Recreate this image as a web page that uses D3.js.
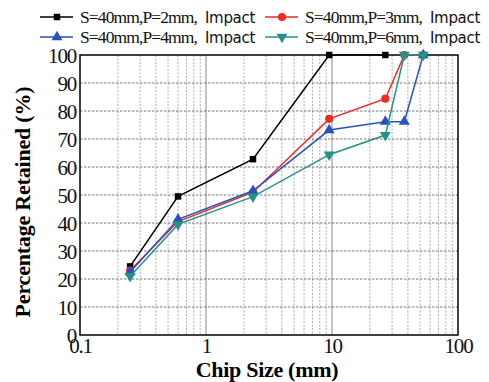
<!DOCTYPE html>
<html>
<head>
<meta charset="utf-8">
<script src="https://cdn.jsdelivr.net/npm/d3@7"></script>
<style>
  body { margin: 0; background: #fff; }
  svg { display: block; }
</style>
</head>
<body>
<svg id="chart" width="489" height="382"></svg>
<script>
// Siebgroessen (mm) und Durchgang je Serie
const chipSizes = [0.25, 0.6, 2.36, 9.5, 26.5, 37.5, 53];
const seriesNames = [
  'S=40mm,P=2mm,', 'S=40mm,P=3mm,', 'S=40mm,P=4mm,', 'S=40mm,P=6mm,'
];
const p2Values = [24.5, 49.5, 62.8, 100, 100];
const p3Values = [23.0, 40.5, 51.0, 77.2, 84.4, 100, 100];
const p4Values = [22.5, 41.3, 51.5, 73.2, 76.2, 76.2, 100];
const p6Values = [21.0, 39.5, 49.4, 64.4, 71.4, 100, 100];
const xTicks = [0.1, 1, 10, 100];
const yTicks = [0, 10, 20, 30, 40, 50, 60, 70, 80, 90, 100];

const seriesColors = ['#000000', '#ee2a24', '#2a52be', '#23938a'];
const seriesShapes = [d3.symbolSquare, d3.symbolCircle, d3.symbolTriangle, 'down'];
const allValues = [p2Values, p3Values, p4Values, p6Values];

const svg = d3.select('#chart');
const margin = { top: 55, right: 31, bottom: 47, left: 80 };
const width = 489 - margin.left - margin.right;
const height = 382 - margin.top - margin.bottom;

const g = svg.append('g')
  .attr('transform', `translate(${margin.left},${margin.top})`);

const xScale = d3.scaleLog().domain([0.1, 100]).range([0, width]);
const yScale = d3.scaleLinear().domain([0, 100]).range([height, 0]);

// Gitter: Nebenteilung vertikal
const minor = [];
[0.1, 1, 10].forEach(dec => {
  for (let k = 2; k <= 9; k++) minor.push(dec * k);
});
g.selectAll('.vminor')
  .data(minor)
  .enter()
  .append('line')
  .attr('x1', d => xScale(d)).attr('x2', d => xScale(d))
  .attr('y1', 0).attr('y2', height)
  .attr('stroke', '#9a9a9a')
  .attr('stroke-width', 0.8)
  .attr('stroke-dasharray', '2,1.5');

g.selectAll('.vmajor')
  .data([1, 10])
  .enter()
  .append('line')
  .attr('x1', d => xScale(d)).attr('x2', d => xScale(d))
  .attr('y1', 0).attr('y2', height)
  .attr('stroke', '#8a8a8a')
  .attr('stroke-width', 1);

g.selectAll('.hgrid')
  .data(yTicks.slice(1, -1))
  .enter()
  .append('line')
  .attr('x1', 0).attr('x2', width)
  .attr('y1', d => yScale(d)).attr('y2', d => yScale(d))
  .attr('stroke', '#555')
  .attr('stroke-width', 0.8)
  .attr('stroke-dasharray', '2.5,1.5');

// Rahmen
g.append('rect')
  .attr('x', 0).attr('y', 0)
  .attr('width', width).attr('height', height)
  .attr('fill', 'none')
  .attr('stroke', '#000')
  .attr('stroke-width', 1.5);

// Achsen-Beschriftung
const xAxis = g.append('g')
  .attr('transform', `translate(0,${height})`)
  .call(d3.axisBottom(xScale).tickValues(xTicks).tickFormat(d => String(d)).tickSize(0).tickPadding(3));
const yAxis = g.append('g')
  .call(d3.axisLeft(yScale).tickValues(yTicks).tickFormat(d => String(d)).tickSize(0).tickPadding(4));
[xAxis, yAxis].forEach(a => {
  a.select('.domain').remove();
  a.selectAll('text')
    .style('font-family', '"Liberation Serif", "Times New Roman", serif')
    .style('font-size', '21px')
    .style('letter-spacing', '-1.2px')
    .attr('fill', '#111');
});
yAxis.selectAll('text').attr('dy', '0.36em');

// Achsentitel
g.append('text')
  .attr('x', width / 2 - 2)
  .attr('y', height + 42)
  .attr('text-anchor', 'middle')
  .style('font-family', '"Liberation Serif", "Times New Roman", serif')
  .style('font-size', '22px')
  .style('font-weight', 'bold')
  .style('letter-spacing', '-0.3px')
  .text('Chip Size (mm)');

g.append('text')
  .attr('transform', `translate(-50,${height / 2 + 7}) rotate(-90)`)
  .attr('text-anchor', 'middle')
  .style('font-family', '"Liberation Serif", "Times New Roman", serif')
  .style('font-size', '22px')
  .style('font-weight', 'bold')
  .style('letter-spacing', '-0.2px')
  .text('Percentage Retained (%)');

function markerPath(shape, size) {
  if (shape === 'down') {
    return d3.symbol().type(d3.symbolTriangle).size(size)();
  }
  return d3.symbol().type(shape).size(size)();
}
function markerSize(i) { return i === 0 ? 42 : 52; }

const line = d3.line()
  .x(d => xScale(d.x))
  .y(d => yScale(d.y));

// Linien und Marker
allValues.forEach((vals, i) => {
  const pts = vals.map((v, j) => ({ x: chipSizes[j], y: v }));
  g.append('path')
    .datum(pts)
    .attr('fill', 'none')
    .attr('stroke', seriesColors[i])
    .attr('stroke-width', 1.5)
    .attr('d', line);
  g.selectAll(`.m${i}`)
    .data(pts)
    .enter()
    .append('path')
    .attr('transform', d => `translate(${xScale(d.x)},${yScale(d.y)})` + (seriesShapes[i] === 'down' ? ' rotate(180)' : ''))
    .attr('d', markerPath(seriesShapes[i], markerSize(i)))
    .attr('fill', seriesColors[i]);
});

// Legende
const legendPos = [[40, 17], [265, 17], [40, 37], [265, 37]];
seriesNames.forEach((name, i) => {
  const [lx, ly] = legendPos[i];
  const lg = svg.append('g').attr('transform', `translate(${lx},${ly})`);
  lg.append('line')
    .attr('x1', 0).attr('x2', 33)
    .attr('y1', 0).attr('y2', 0)
    .attr('stroke', seriesColors[i])
    .attr('stroke-width', 1.5);
  lg.append('path')
    .attr('transform', `translate(17,0)` + (seriesShapes[i] === 'down' ? ' rotate(180)' : ''))
    .attr('d', markerPath(seriesShapes[i], markerSize(i)))
    .attr('fill', seriesColors[i]);
  const t = lg.append('text')
    .attr('x', 40)
    .attr('y', 6)
    .style('font-size', '17.5px')
    .attr('fill', '#111');
  t.append('tspan')
    .style('font-family', '"Liberation Serif", "Times New Roman", serif')
    .style('letter-spacing', '-0.9px')
    .text(name);
  t.append('tspan')
    .attr('dx', 8)
    .style('font-family', '"DejaVu Sans", sans-serif')
    .style('font-size', '15px')
    .style('letter-spacing', '-0.3px')
    .text('Impact');
});
</script>
</body>
</html>
